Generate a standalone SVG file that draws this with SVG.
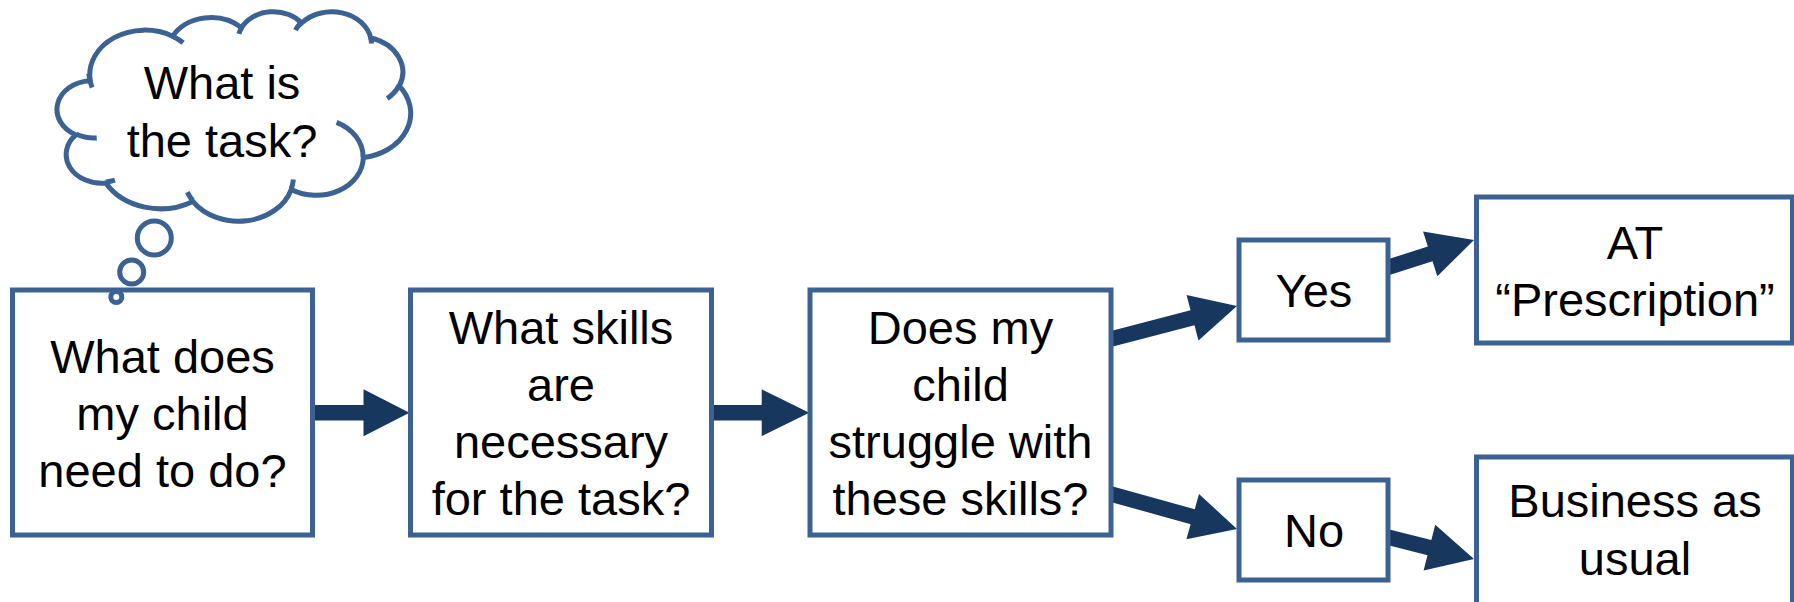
<svg xmlns="http://www.w3.org/2000/svg" width="1794" height="602" viewBox="0 0 1794 602">
<style>
.box{fill:#ffffff;stroke:#3B6292;stroke-width:5}
.t{font-family:"Liberation Sans",Arial,sans-serif;font-size:47px;fill:#000000;text-anchor:middle}
.arr{fill:#18375E;stroke:none}
.cl{fill:#ffffff;stroke:#3B6292;stroke-width:5;vector-effect:non-scaling-stroke}
.tick{fill:none;stroke:#3B6292;stroke-width:5;vector-effect:non-scaling-stroke}
.bub{fill:#ffffff;stroke:#3B6292;stroke-width:5}
</style>
<rect x="0" y="0" width="1794" height="602" fill="#ffffff"/>
<g id="connectors">
<polygon class="arr" points="310,405 363.5,405 363.5,389.25 409.5,412.75 363.5,436.25 363.5,420.5 310,420.5"/>
<polygon class="arr" points="711,405 761.7,405 761.7,389.25 809.3,412.75 761.7,436.25 761.7,420.5 711,420.5"/>
<polygon class="arr" transform="translate(1108.1,339.76) rotate(-14.68)" points="0,-7.75 87.25,-7.75 87.25,-23.5 133.25,0 87.25,23.5 87.25,7.75 0,7.75"/>
<polygon class="arr" transform="translate(1108.1,493.2) rotate(15.52)" points="0,-7.75 87.8,-7.75 87.8,-23.5 133.8,0 87.8,23.5 87.8,7.75 0,7.75"/>
<polygon class="arr" transform="translate(1385.5,268.2) rotate(-17.67)" points="0,-7.75 46.9,-7.75 46.9,-23.5 92.9,0 46.9,23.5 46.9,7.75 0,7.75"/>
<polygon class="arr" transform="translate(1385.5,536.4) rotate(14.33)" points="0,-7.75 45.34,-7.75 45.34,-23.5 91.34,0 45.34,23.5 45.34,7.75 0,7.75"/>
</g>
<g id="box1">
<rect class="box" x="12.5" y="290" width="300" height="245"/>
<text class="t"><tspan x="162.5" y="373">What does</tspan><tspan x="162.5" y="430">my child</tspan><tspan x="162.5" y="487">need to do?</tspan></text>
</g>
<g id="box2">
<rect class="box" x="410.5" y="290" width="301" height="245"/>
<text class="t"><tspan x="561" y="344">What skills</tspan><tspan x="561" y="401">are</tspan><tspan x="561" y="458">necessary</tspan><tspan x="561" y="515">for the task?</tspan></text>
</g>
<g id="box3">
<rect class="box" x="810" y="290" width="301" height="245"/>
<text class="t"><tspan x="960.5" y="344">Does my</tspan><tspan x="960.5" y="401">child</tspan><tspan x="960.5" y="458">struggle with</tspan><tspan x="960.5" y="515">these skills?</tspan></text>
</g>
<g id="yes">
<rect class="box" x="1239" y="240" width="149" height="100"/>
<text class="t" x="1314" y="307">Yes</text>
</g>
<g id="no">
<rect class="box" x="1239" y="480" width="149" height="100"/>
<text class="t" x="1314" y="547">No</text>
</g>
<g id="at">
<rect class="box" x="1476.5" y="197" width="316" height="146"/>
<text class="t"><tspan x="1635" y="259">AT</tspan><tspan x="1635" y="316">“Prescription”</tspan></text>
</g>
<g id="business">
<rect class="box" x="1476.5" y="457" width="316" height="160"/>
<text class="t"><tspan x="1635" y="517">Business as</tspan><tspan x="1635" y="575">usual</tspan></text>
</g>
<g id="cloud">
<circle class="bub" cx="116.3" cy="297" r="5.5"/>
<circle class="bub" cx="131.7" cy="272" r="12"/>
<circle class="bub" cx="154.3" cy="238" r="17"/>
<g transform="translate(58.5,11) scale(0.0081481,0.0048495)">
<path class="cl" d="M 3900 14370 A 6753 9190 0 0 1 14004.9 5201.8 A 5333 7267 0 0 1 22458.6 3435.8 A 4365 5945 0 0 1 29836.6 2486.1 A 4857 6595 0 0 1 38321.6 5581.2 A 5333 7273 0 0 1 41821.9 15464.7 A 6775 9220 0 0 1 37406.2 30205.2 A 5785 7867 0 0 1 28557.9 36815.5 A 6752 9215 0 0 1 16483.7 39269.5 A 7720 10543 0 0 1 5808.3 35476.2 A 4360 5918 0 0 1 2116.5 25555 A 4345 5945 0 0 1 3900 14370 Z"/>
<path class="tick" d="M 4693 26177 A 4345 5945 0 0 1 2160 25380 M 6928 34899 A 4360 5918 0 0 1 5819.9 35280.5 M 16478 39090 A 6752 9215 0 0 1 15809 37347 M 28827 34751 A 6752 9215 0 0 1 28560.4 36660.2 M 34129 22954 A 5785 7867 0 0 1 37380.4 30089.6 M 41798 15354 A 5333 7273 0 0 1 40350.2 18029.9 M 38324 5426 A 4857 6595 0 0 1 38400.6 6689.7 M 29078 3952 A 4857 6595 0 0 1 29820.1 2339.4 M 22141 4720 A 4365 5945 0 0 1 22500.2 3330.5 M 14000 5192 A 6753 9190 0 0 1 15303.4 6545 M 4127 15789 A 6753 9190 0 0 1 3721.9 12965.9"/>
</g>
<text class="t"><tspan x="222" y="99">What is</tspan><tspan x="222" y="157">the task?</tspan></text>
</g>
</svg>
